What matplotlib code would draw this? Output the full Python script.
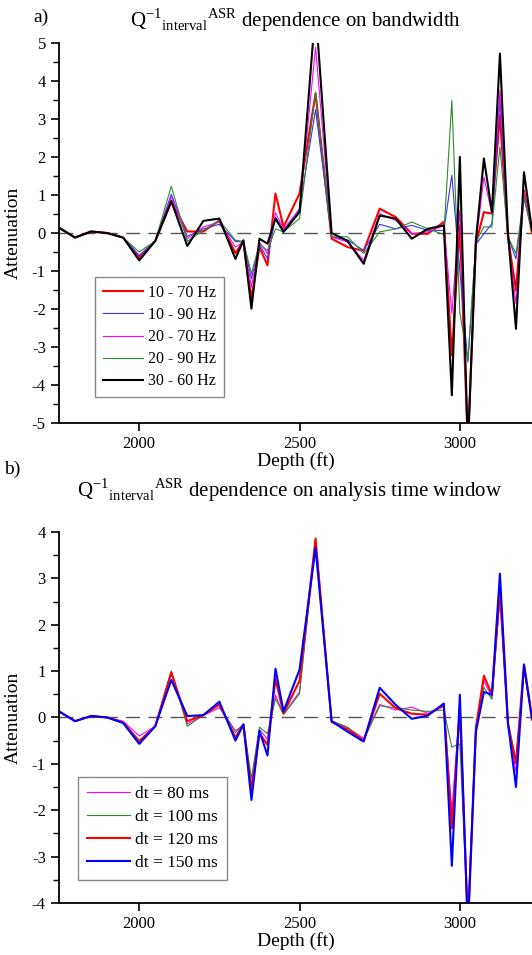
import numpy as np
import matplotlib
matplotlib.use('Agg')
import matplotlib.pyplot as plt
from matplotlib.ticker import MultipleLocator

plt.rcParams['font.family'] = ['Liberation Serif', 'DejaVu Serif']
plt.rcParams['mathtext.fontset'] = 'custom'
plt.rcParams['mathtext.rm'] = 'Liberation Serif'
plt.rcParams['axes.unicode_minus'] = False

# Depth samples (ft)
depth = [1750, 1800, 1850, 1900, 1950, 2000, 2050, 2100, 2150, 2200, 2250, 2300,
         2325, 2350, 2375, 2400, 2425, 2450, 2500, 2550, 2600, 2650, 2700, 2750,
         2800, 2850, 2900, 2950, 2975, 3000, 3025, 3050, 3075, 3100, 3125, 3150,
         3175, 3200, 3225]

# a) bandwidth dependence
bw_10_70 = [0.14, -0.12, 0.04, 0.0, -0.12, -0.63, -0.21, 0.82, 0.04, 0.04, 0.33, -0.53,
            -0.22, -1.73, -0.37, -0.85, 1.04, 0.16, 1.04, 3.67, -0.15, -0.37, -0.47, 0.64,
            0.42, -0.02, -0.02, 0.29, -3.22, 0.2, -5.6, -0.28, 0.55, 0.51, 3.10, -0.10,
            -1.51, 1.12, 0.0]
bw_10_90 = [0.14, -0.12, 0.04, 0.0, -0.12, -0.59, -0.21, 1.02, -0.09, 0.11, 0.23, -0.22,
            -0.24, -1.20, -0.30, -0.68, 0.42, 0.07, 0.64, 3.25, -0.10, -0.18, -0.46, 0.23,
            0.11, 0.20, 0.07, 0.07, 1.52, -1.0, -3.39, -0.30, -0.02, 0.25, 3.5, -0.10,
            -0.68, 0.90, 0.07]
bw_20_70 = [0.14, -0.12, 0.04, 0.0, -0.12, -0.68, -0.21, 0.95, -0.15, 0.16, 0.29, -0.37,
            -0.24, -1.42, -0.24, -0.54, 0.53, 0.11, 0.60, 4.89, -0.10, -0.24, -0.72, 0.51,
            0.33, -0.02, 0.03, 0.20, -2.12, 0.6, -5.4, -0.28, 1.47, 0.51, 3.75, -0.10,
            -1.86, 1.04, 0.07]
bw_20_90 = [0.14, -0.12, 0.04, 0.0, -0.12, -0.50, -0.21, 1.23, -0.22, 0.07, 0.33, -0.19,
            -0.22, -1.07, -0.28, -0.46, 0.11, 0.03, 0.38, 3.71, -0.10, -0.10, -0.54, 0.03,
            0.11, 0.29, 0.11, -0.04, 3.49, -2.1, -3.35, -0.24, 0.16, 0.16, 2.26, -0.10,
            -0.54, 0.95, 0.07]
bw_30_60 = [0.14, -0.12, 0.04, 0.0, -0.12, -0.72, -0.21, 0.84, -0.34, 0.32, 0.38, -0.68,
            -0.19, -1.99, -0.15, -0.28, 0.38, 0.03, 0.55, 5.9, 0.0, -0.21, -0.81, 0.46,
            0.38, -0.15, 0.11, 0.20, -4.27, 2.0, -5.7, -0.19, 1.96, 0.55, 4.72, 0.0,
            -2.52, 1.60, 0.07]

# b) analysis time window dependence
dt_80 = [0.13, -0.08, 0.03, 0.0, -0.08, -0.40, -0.19, 0.98, -0.14, 0.04, 0.21, -0.28,
         -0.17, -1.45, -0.26, -0.47, 0.48, 0.07, 0.55, 3.76, -0.08, -0.22, -0.45, 0.28,
         0.16, 0.22, 0.09, 0.23, -2.04, 0.25, -4.4, -0.22, 0.79, 0.44, 2.57, -0.15,
         -1.17, 1.08, -0.02]
dt_100 = [0.13, -0.08, 0.03, 0.0, -0.10, -0.49, -0.19, 1.00, -0.19, 0.05, 0.27, -0.33,
          -0.14, -1.31, -0.21, -0.35, 0.41, 0.06, 0.51, 3.87, -0.07, -0.21, -0.49, 0.25,
          0.21, 0.16, 0.13, 0.16, -0.64, -0.57, -4.3, -0.21, 0.65, 0.39, 2.64, -0.08,
          -0.92, 1.03, -0.02]
dt_120 = [0.13, -0.08, 0.03, 0.0, -0.11, -0.52, -0.19, 0.97, -0.08, 0.05, 0.28, -0.43,
          -0.15, -1.59, -0.34, -0.59, 0.83, 0.09, 0.79, 3.85, -0.10, -0.26, -0.50, 0.51,
          0.20, 0.08, 0.06, 0.27, -2.39, 0.2, -4.5, -0.22, 0.90, 0.49, 2.78, -0.15,
          -0.99, 1.14, -0.05]
dt_150 = [0.13, -0.08, 0.03, 0.0, -0.12, -0.57, -0.19, 0.81, 0.03, 0.05, 0.34, -0.50,
          -0.15, -1.78, -0.29, -0.82, 1.05, 0.13, 1.03, 3.66, -0.08, -0.31, -0.52, 0.64,
          0.27, -0.03, 0.04, 0.30, -3.20, 0.49, -4.6, -0.31, 0.55, 0.49, 3.10, -0.12,
          -1.50, 1.14, -0.01]

fig = plt.figure(figsize=(5.32, 9.55), dpi=100)
ax1 = fig.add_axes([0.111, 0.557, 0.889, 0.398])
ax2 = fig.add_axes([0.111, 0.0545, 0.889, 0.3885])


def style_axis(ax, ylim):
    ax.axhline(0, color='#555555', lw=1.0, ls=(0, (10, 6)), zorder=1)
    ax.set_xlim(1750, 3225)
    ax.set_ylim(*ylim)
    ax.spines['top'].set_visible(False)
    ax.spines['right'].set_visible(False)
    ax.spines['left'].set_linewidth(1.3)
    ax.spines['bottom'].set_linewidth(1.3)
    ax.xaxis.set_major_locator(MultipleLocator(500))
    ax.yaxis.set_major_locator(MultipleLocator(1))
    ax.yaxis.set_minor_locator(MultipleLocator(0.5))
    ax.tick_params(axis='both', which='major', direction='out', length=6, width=1.2,
                   labelsize=12)
    ax.tick_params(axis='y', which='minor', direction='out', length=4, width=1.0)
    ax.set_xlabel('Depth (ft)', fontsize=14, labelpad=0)
    ax.set_ylabel('Attenuation', fontsize=14, labelpad=7)


def add_legend(ax, anchor, size, spacing):
    leg = ax.legend(loc='lower left', bbox_to_anchor=anchor, borderaxespad=0,
                    fontsize=size, handlelength=2.5, handletextpad=0.3,
                    labelspacing=spacing, borderpad=0.5, fancybox=False,
                    edgecolor='#888888', framealpha=1)
    leg.get_frame().set_linewidth(1.0)


# Panel a
ax1.plot(depth, bw_10_70, color='#ff0000', lw=1.5, label='10 - 70 Hz')
ax1.plot(depth, bw_10_90, color='#3333ff', lw=0.8, label='10 - 90 Hz')
ax1.plot(depth, bw_20_70, color='#ff00ff', lw=0.8, label='20 - 70 Hz')
ax1.plot(depth, bw_20_90, color='#2e8b2e', lw=0.8, label='20 - 90 Hz')
ax1.plot(depth, bw_30_60, color='#000000', lw=1.5, label='30 - 60 Hz')
style_axis(ax1, (-5, 5))
add_legend(ax1, (0.076, 0.068), 11.5, 0.38)

# Panel b
ax2.plot(depth, dt_80, color='#ff00ff', lw=0.8, label='dt = 80 ms')
ax2.plot(depth, dt_100, color='#2e8b2e', lw=0.8, label='dt = 100 ms')
ax2.plot(depth, dt_120, color='#ff0000', lw=1.5, label='dt = 120 ms')
ax2.plot(depth, dt_150, color='#0000ff', lw=1.5, label='dt = 150 ms')
style_axis(ax2, (-4, 4))
add_legend(ax2, (0.04, 0.062), 12.5, 0.4)

# Titles and panel letters
fig.text(0.555, 0.979, r'$\mathrm{Q}^{\mathrm{-1}}{}_{\mathrm{interval}}{}^{\mathrm{ASR}}$'
         ' dependence on bandwidth', ha='center', va='center', fontsize=15)
fig.text(0.062, 0.982, 'a)', ha='left', va='center', fontsize=14)
fig.text(0.545, 0.487, r'$\mathrm{Q}^{\mathrm{-1}}{}_{\mathrm{interval}}{}^{\mathrm{ASR}}$'
         ' dependence on analysis time window', ha='center', va='center', fontsize=15)
fig.text(0.008, 0.509, 'b)', ha='left', va='center', fontsize=14)

fig.savefig('out.png', dpi=100)
